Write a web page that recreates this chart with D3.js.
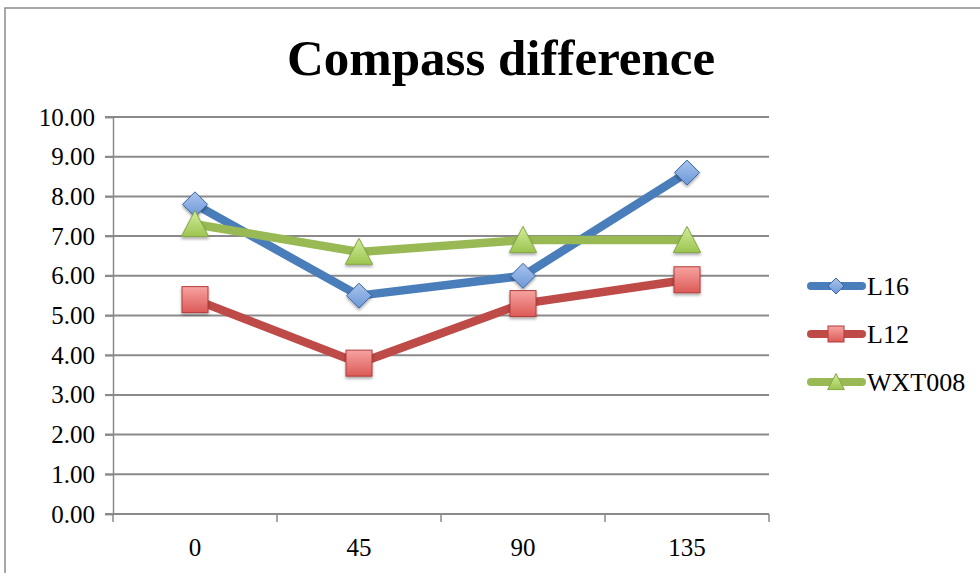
<!DOCTYPE html>
<html>
<head>
<meta charset="utf-8">
<script src="https://cdn.jsdelivr.net/npm/d3@7"></script>
<style>
  html, body { margin: 0; padding: 0; background: #fff; }
  text { font-family: "Liberation Serif", "DejaVu Serif", serif; fill: #000; }
</style>
</head>
<body>
<svg id="chart" width="980" height="573"></svg>
<script>
// Angle categories along the x axis
const categories = ["0", "45", "90", "135"];
// Compass difference per sensor
const l16 = [7.8, 5.5, 6.0, 8.6];
const l12 = [5.4, 3.8, 5.3, 5.9];
const wxt008 = [7.3, 6.6, 6.9, 6.9];
const yTicks = [0, 1, 2, 3, 4, 5, 6, 7, 8, 9, 10];

const series = [
  { name: "L16", values: l16, shape: "diamond", line: "#4a7ebb", stroke: "#3b64a0", light: "#a9c4ec", dark: "#6b98d8" },
  { name: "L12", values: l12, shape: "square", line: "#be4b48", stroke: "#b03c3a", light: "#f7a3a1", dark: "#dc5a57" },
  { name: "WXT008", values: wxt008, shape: "triangle", line: "#98b954", stroke: "#86a845", light: "#d2ec9b", dark: "#9cc550" }
];

const FONT = '"Liberation Serif", "DejaVu Serif", serif';
const svg = d3.select("#chart");
const margin = { left: 113, right: 769, top: 117, bottom: 514 };

// Chart frame
svg.append("rect")
  .attr("x", 5).attr("y", 8).attr("width", 990).attr("height", 600)
  .attr("fill", "#fff").attr("stroke", "#8c8c8c").attr("stroke-width", 1.5);

const defs = svg.append("defs");
series.forEach((s, i) => {
  const g = defs.append("linearGradient").attr("id", "grad" + i)
    .attr("x1", 0).attr("y1", 0).attr("x2", 0).attr("y2", 1);
  g.append("stop").attr("offset", "0%").attr("stop-color", s.light);
  g.append("stop").attr("offset", "100%").attr("stop-color", s.dark);
});
const shadow = defs.append("filter").attr("id", "shadow")
  .attr("x", "-30%").attr("y", "-30%").attr("width", "160%").attr("height", "170%");
shadow.append("feDropShadow").attr("dx", 0).attr("dy", 2).attr("stdDeviation", 1.5)
  .attr("flood-color", "#000").attr("flood-opacity", 0.35);

const x = d3.scaleBand().domain(categories).range([margin.left, margin.right]);
const y = d3.scaleLinear().domain([0, 10]).range([margin.bottom, margin.top]);

// Title
svg.append("text")
  .attr("x", 501).attr("y", 75)
  .attr("text-anchor", "middle")
  .attr("font-size", 51).attr("font-weight", "bold")
  .text("Compass difference");

// Horizontal gridlines
svg.append("g").selectAll("line").data(yTicks).join("line")
  .attr("x1", margin.left - 8).attr("x2", margin.right)
  .attr("y1", d => y(d)).attr("y2", d => y(d))
  .attr("stroke", "#8a8a8a").attr("stroke-width", 2);

// Y axis
const yAxis = svg.append("g").attr("transform", `translate(${margin.left},0)`)
  .call(d3.axisLeft(y).tickValues(yTicks).tickFormat(d3.format(".2f")).tickSize(8).tickPadding(10))
  .attr("font-family", FONT).attr("font-size", 25);
yAxis.select(".domain").attr("stroke", "#8a8a8a").attr("stroke-width", 1.5);
yAxis.selectAll(".tick line").attr("stroke", "#8a8a8a").attr("stroke-width", 1.5);
yAxis.selectAll(".tick text").attr("fill", "#000");

// X axis with ticks between categories
const xAxis = svg.append("g").attr("transform", `translate(0,${margin.bottom})`);
xAxis.append("line").attr("x1", margin.left).attr("x2", margin.right)
  .attr("y1", 0).attr("y2", 0).attr("stroke", "#8a8a8a").attr("stroke-width", 2);
const boundaries = categories.map(c => x(c)).concat([x(categories[categories.length - 1]) + x.bandwidth()]);
xAxis.selectAll("line.tk").data(boundaries).join("line").attr("class", "tk")
  .attr("x1", d => d).attr("x2", d => d).attr("y1", 0).attr("y2", 8)
  .attr("stroke", "#8a8a8a").attr("stroke-width", 1.5);
xAxis.selectAll("text").data(categories).join("text")
  .attr("x", d => x(d) + x.bandwidth() / 2).attr("y", 42)
  .attr("text-anchor", "middle").attr("font-size", 25)
  .text(d => d);

const cx = c => x(c) + x.bandwidth() / 2;
const line = d3.line().x((d, i) => cx(categories[i])).y(d => y(d));

function marker(sel, shape, size) {
  if (shape === "diamond") {
    return sel.append("path").attr("d", `M0,${-size}L${size},0L0,${size}L${-size},0Z`);
  } else if (shape === "square") {
    return sel.append("rect").attr("x", -size).attr("y", -size).attr("width", 2 * size).attr("height", 2 * size);
  }
  return sel.append("path").attr("d", `M0,${-size * 1.05}L${size * 1.05},${size * 0.95}L${-size * 1.05},${size * 0.95}Z`);
}
const markerSize = { diamond: 12.5, square: 13, triangle: 13 };

series.forEach((s, i) => {
  svg.append("path").datum(s.values)
    .attr("d", line).attr("fill", "none")
    .attr("stroke", s.line).attr("stroke-width", 8.5)
    .attr("stroke-linejoin", "round").attr("stroke-linecap", "round");
});
series.forEach((s, i) => {
  s.values.forEach((v, j) => {
    const g = svg.append("g").attr("transform", `translate(${cx(categories[j])},${y(v)})`)
      .attr("filter", "url(#shadow)");
    marker(g, s.shape, markerSize[s.shape])
      .attr("fill", `url(#grad${i})`).attr("stroke", s.stroke).attr("stroke-width", 1);
  });
});

// Legend
const legendY = [286, 334, 382];
series.forEach((s, i) => {
  const g = svg.append("g").attr("transform", `translate(0,${legendY[i]})`);
  g.append("line").attr("x1", 811).attr("x2", 862).attr("y1", 0).attr("y2", 0)
    .attr("stroke", s.line).attr("stroke-width", 8).attr("stroke-linecap", "round");
  const m = g.append("g").attr("transform", "translate(836,0)");
  marker(m, s.shape, 8).attr("fill", `url(#grad${i})`).attr("stroke", s.stroke).attr("stroke-width", 1);
  g.append("text").attr("x", 867).attr("y", 9).attr("font-size", 26).text(s.name);
});
</script>
</body>
</html>
